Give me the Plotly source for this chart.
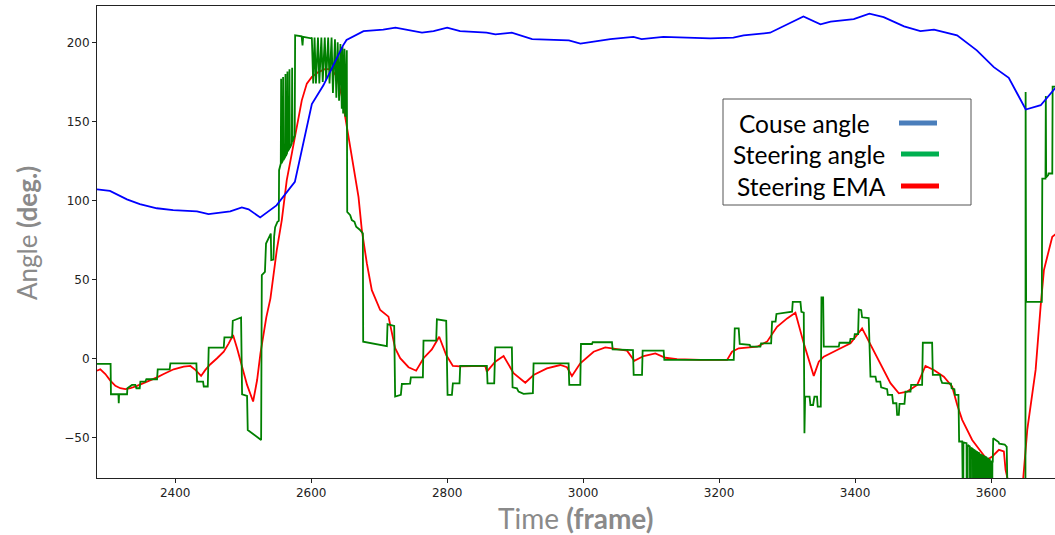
import plotly.graph_objects as go

# ---------------- data ----------------
course_x = [2285, 2304, 2329, 2348, 2373, 2397, 2432, 2449, 2481, 2498, 2508, 2525, 2549, 2576,
            2601, 2618, 2647, 2652, 2677, 2706, 2724, 2763, 2780, 2800, 2819, 2858, 2871, 2895,
            2925, 2979, 2996, 3040, 3074, 3086, 3118, 3187, 3221, 3236, 3275, 3324, 3349, 3364,
            3398, 3421, 3442, 3472, 3496, 3516, 3550, 3579, 3604, 3626, 3651, 3673, 3695]
course_y = [106.9, 106, 100.6, 97.6, 95, 93.8, 93, 91.3, 93, 95.5, 94.3, 89.2, 96.8, 111.7,
            161, 172.8, 198.1, 201.5, 207.1, 208, 209.3, 206.1, 207.1, 209.3, 207.1, 206.1, 205.1, 206.1,
            202.1, 201.3, 199.2, 202.1, 203.4, 202.1, 203.4, 202.5, 203, 204.4, 206.1, 216.4, 211.4, 213.1,
            214.7, 218.1, 216, 210.1, 207.1, 208, 204.4, 194.9, 184.3, 177.6, 157.5, 160.2, 171.4]

steer_x = [2285, 2305, 2305.5, 2316.5, 2317, 2317.5, 2329.2, 2329.7, 2336.5, 2341.4, 2342.9, 2347.8,
           2348.8, 2356.1, 2357.6, 2373.3, 2374.3, 2391.9, 2392.9, 2431.2, 2432.2, 2441, 2442, 2447.9,
           2449.3, 2471.4, 2472.4, 2483.7, 2484.7, 2496.9, 2498.4, 2505.7, 2506.7, 2525.4, 2526.4,
           2527.4, 2532, 2533.6, 2540.6, 2541.3, 2544.5, 2545.5, 2547, 2550.4, 2552.4, 2552.8,
           2555.3, 2555.8, 2556.3, 2558.2, 2558.7, 2559.2, 2561.7, 2562.2, 2562.7, 2564.6, 2565.1, 2565.6,
           2567.6, 2568.1, 2568.6, 2571.5, 2572, 2572.5, 2575.8, 2576.4, 2586, 2587.3, 2588.2, 2600,
           2601, 2603, 2605, 2607, 2610, 2612, 2615, 2617, 2620, 2622, 2625, 2627, 2630, 2632, 2635, 2637,
           2639, 2641, 2643, 2645, 2646, 2647, 2649, 2650, 2652.4,
           2653, 2657.4, 2659.8, 2663.7, 2666.2, 2671.1, 2676, 2676.5, 2711.3, 2712.3, 2722.1, 2723.5,
           2731.9, 2733.4, 2745.5, 2746.6, 2764.3, 2765.2, 2783.9, 2784.9, 2798.6, 2800.6, 2807, 2808.4,
           2818.2, 2819.2, 2858.4, 2859.4, 2869.2, 2870.7, 2895.2, 2896.2, 2902.6, 2905, 2912.4, 2926.1,
           2927.1, 2978.6, 2979.6, 2995.8, 2996.8, 3013, 3014, 3042.4, 3043.4, 3073.3, 3074.3, 3086.6,
           3087.5, 3118.4, 3119.4, 3221.5, 3223, 3228.8, 3230.3, 3245, 3246, 3260.7, 3261.7, 3276.5,
           3277.9, 3283, 3284.3, 3307.3, 3308.3, 3319.6, 3321, 3324.5, 3325.5, 3326.5, 3333, 3334.3,
           3338.2, 3340.2, 3344, 3345, 3349.5, 3350.5, 3353, 3353.9, 3376, 3377, 3392.2, 3393.2, 3398.5,
           3399.5, 3404.4, 3405.4, 3409, 3410.3, 3420, 3422.6, 3430, 3431.4, 3437, 3438.3, 3447.1, 3448.1,
           3454.5, 3455.9, 3460.8, 3461.8, 3464.3, 3465.3, 3472.6, 3474.1, 3481.5, 3482.4, 3498.6,
           3499.6, 3513.3, 3514.3, 3525, 3526, 3528, 3541, 3542, 3546, 3547, 3552, 3553,
           3557.5, 3557.8, 3559, 3559.3, 3563.9, 3564.2, 3565.4, 3565.7, 3568.8, 3569.1, 3570.3, 3570.6,
           3573.2, 3573.5, 3574.6, 3574.9, 3576.1, 3576.4, 3577.5, 3577.8, 3579.6, 3579.9, 3581, 3581.3,
           3582.5, 3582.8, 3583.9, 3584.2, 3585.4, 3585.7, 3586.8, 3587.1, 3588.4, 3588.7, 3589.8, 3590.1,
           3590.8, 3591.1, 3592.2, 3592.5, 3593.3, 3593.6, 3594.7, 3595, 3595.8, 3596.1, 3597.2, 3597.5,
           3598.2, 3598.5, 3599.6, 3599.9, 3600.2, 3600.5, 3601.6, 3601.9, 3602.5, 3603.1, 3611, 3612,
           3620, 3623, 3624, 3625, 3650.5, 3650.8, 3651.5, 3674.6, 3675.3, 3680, 3680.5, 3681, 3684,
           3684.5, 3690, 3690.5, 3695]
steer_y = [-3.5, -3.5, -22.7, -22.7, -28.4, -22.7, -22.7, -18.9, -16.8, -16.8, -18.9, -18.9,
           -14.7, -14.7, -13.2, -13.2, -6.9, -6.9, -3.1, -3.1, -14.7, -14.7, -17.8, -17.8,
           6.8, 6.8, 13.3, 13.3, 23.8, 25.9, -22.7, -23.8, -45.3, -51.6, -51.6,
           52.7, 54.8, 72.7, 79, 62.2, 62.5, 77, 83, 86.4, 87, 119.1,
           123.3, 177, 123.5, 125, 178, 125.5, 127.5, 180, 128, 130, 181.5, 131,
           132.5, 183, 133, 136, 184, 137, 141, 204.4, 203.8, 198, 203.5, 202.5,
           203, 174, 203, 174, 203, 174, 203, 175, 203, 176, 203, 174, 203, 168, 202, 165,
           200, 163, 199, 158, 197, 155, 196, 153, 195,
           92.7, 90.6, 87.5, 86.4, 83.3, 81.6, 79.1, 10.6, 7.8, 21.7, 20.5, -24.2,
           -23.1, -16.2, -16, -12, -12, 11.2, 11.2, 24.7, 23.8, -23.1, -23.1, -15.8,
           -15.8, -4.8, -4.8, -15.8, -15.8, 7, 7, -18.3, -18.9, -21, -22.5, -22,
           -3.1, -3.1, -16.8, -16.8, 9.1, 9.1, 10.2, 10.2, 5.7, 5.3, -10.5, -10.5,
           4.9, 4.9, -1, -1, 19, 19, 9.1, 8.5, 7.4, 7.4, 9.5, 9.5,
           23.2, 23.2, 28.1, 29.5, 35.8, 35.8, 29.5, 29, -47.4, -24.2, -24.2, -29.5,
           -29.5, -24.2, -24.2, -30.5, -30.5, 38.6, 38.6, 7.4, 7.4, 9.9, 9.9, 12.3, 12.3,
           15.4, 15.4, 31, 30.5, 26, 25.5, -11.6, -11.6, -14.7, -14.7, -18.3, -19.5, -23.1,
           -23.1, -28.4, -28.4, -35.8, -35.8, -28.8, -28.8, -21, -21, -16.8, -16.8,
           9.9, 9.9, -10.5, -10.5, -13.2, -15.5, -16, -19, -19.5, -23.1, -23.1, -52.6,
           -52.6, -110, -110, -53.2, -53.7, -110, -110, -54.8, -55.8, -110, -110, -56.5,
           -57.3, -110, -110, -57.8, -58.3, -110, -110, -58.8, -59.2, -110, -110, -59.6,
           -60, -110, -110, -60.5, -61.1, -110, -110, -61.4, -61.7, -110, -110, -61.9,
           -62.1, -110, -110, -62.3, -62.6, -110, -110, -63, -63.5, -110, -110, -63.8,
           -64.2, -110, -110, -64.8, -65.3, -110, -110, -65.3, -65.3, -50.5, -53, -54,
           -54.5, -56, -70, -110, -110, 168.6, 35.8, 35.8, 113.8, 113.8, 166, 114.5, 116,
           117, 117, 172, 172]

ema_x = [2285, 2289.9, 2297.3, 2304.6, 2312, 2319.3, 2326.7, 2334.1, 2343.9, 2353.7, 2363.5, 2373.3,
         2383.1, 2397.8, 2412.5, 2422.4, 2429.7, 2438.1, 2444.4, 2451.8, 2461.6, 2471.4, 2478.8,
         2485.1, 2491, 2498.4, 2505.7, 2514.6, 2520.5, 2525.4, 2530.3, 2534, 2540.1, 2549.4, 2556.8,
         2564.1, 2571.5, 2578.9, 2586.2, 2593.6, 2601, 2610, 2620, 2630, 2638, 2645, 2652.4, 2664.7,
         2669.6, 2674.5, 2681.9, 2689.2, 2701.5, 2713.7, 2723.5, 2730.9, 2743.2, 2754.4, 2765.2,
         2777.5, 2788.3, 2798.6, 2808.4, 2819.2, 2856, 2858.4, 2870.7, 2883, 2897.7, 2914.9, 2927.1,
         2946.7, 2966.4, 2976.2, 2983.5, 2995.8, 3015.4, 3032.6, 3049.8, 3064.5, 3075.3, 3089,
         3106.2, 3120.9, 3138.1, 3172.4, 3211.7, 3219, 3228.8, 3255.8, 3270.5, 3285.2, 3300, 3312.2,
         3324.5, 3334.3, 3339.2, 3346.6, 3353.9, 3373.5, 3393.2, 3410.3, 3422.6, 3437.3, 3452,
         3464.3, 3476.6, 3491.3, 3503.5, 3515.8, 3530.5, 3542.8, 3550.2, 3557.5, 3572.2, 3586.9,
         3594.3, 3601.7, 3611.5, 3618.8, 3621.3, 3626.2, 3632, 3642, 3647.3, 3653.2, 3660.6, 3665.5,
         3672.8, 3677.7, 3682.6, 3686.6, 3690, 3694.9]
ema_y = [-7.8, -6.9, -9.9, -14.1, -17.4, -18.9, -19.5, -18.9, -17.4, -15.7, -14.1, -12,
         -9.9, -6.9, -5.2, -4.8, -7.3, -11.1, -7.3, -3.7, 0.1, 4.2, 9.5,
         14.8, 6.4, -5.2, -16.8, -27.3, -13.7, 3.2, 16.9, 26, 38, 68.5, 87.5,
         112.8, 129.6, 146.5, 163.3, 173.9, 178.1, 181, 183, 183, 178, 166, 147, 117,
         102.2, 81.2, 60.1, 43.2, 30.6, 26.4, 6.4, 0.1, -5.6, -7.8, 0.1,
         5.7, 13.7, 2.1, -4.8, -5, -4.8, -8.4, -2.1, 1.5, -9.4, -15.4, -10.5,
         -6.3, -4.2, -5.6, -11.1, -3.1, 4.2, 7, 5.7, 4.9, -1.5, 1.5,
         3.2, 0.4, -0.5, -1, -1, 4.2, 6.4, 7.4, 10.6, 20, 25.3, 28.9,
         9.5, -5.2, -11.1, -2.1, 1.1, 5.3, 9.5, 19, 8.5, -4.2, -15.7,
         -22.1, -21, -16.8, -4.8, -7.3, -11.6, -17.9, -29.5, -38.9, -51.6, -60,
         -64.2, -62.1, -57.9, -58.9, -70.5, -80, -95, -95, -75.8, -45.3, -22.1, -7.3,
         32.7, 55.9, 64.3, 71.7, 77, 78.6]

x_ticks = [2400, 2600, 2800, 3000, 3200, 3400, 3600]
y_ticks = [-50, 0, 50, 100, 150, 200]
legend_labels = ["Couse angle", "Steering angle", "Steering EMA"]

# ---------------- layout helpers (pixel -> paper) ----------------
W, H = 1055, 535
ML, MR, MT, MB = 97, 0, 6, 57
PW, PH = W - ML - MR, H - MT - MB


def px(x):
    return (x - ML) / PW


def py(y):
    return (H - MB - y) / PH


fig = go.Figure()
fig.add_trace(go.Scatter(x=ema_x, y=ema_y, mode="lines",
                         line=dict(color="#ff0000", width=1.8), showlegend=False))
fig.add_trace(go.Scatter(x=steer_x, y=steer_y, mode="lines",
                         line=dict(color="#008000", width=1.8), showlegend=False))
fig.add_trace(go.Scatter(x=course_x, y=course_y, mode="lines",
                         line=dict(color="#0000ff", width=1.8), showlegend=False))

tickfont = dict(family="DejaVu Sans", size=12, color="#222")
fig.update_xaxes(range=[2285, 3694], tickvals=x_ticks, showgrid=False, zeroline=False,
                 showline=True, linecolor="#222", linewidth=1, mirror=True,
                 ticks="outside", ticklen=4, tickcolor="#222", tickfont=tickfont)
fig.update_yaxes(range=[-75.7, 223], tickvals=y_ticks, showgrid=False, zeroline=False,
                 showline=True, linecolor="#222", linewidth=1,
                 ticks="outside", ticklen=4, tickcolor="#222", tickfont=tickfont)

shapes = [dict(type="rect", xref="paper", yref="paper",
               x0=px(723), x1=px(971), y0=py(99), y1=py(205),
               line=dict(color="#555", width=1), fillcolor="white", layer="above")]
leg_colors = ["#4a7ebb", "#00b050", "#ff0000"]
leg_y = [123, 154, 186]
leg_x = [[899, 937], [901, 939], [901, 939]]
text_x = [737, 731, 735]
annotations = []
for lab, c, yy, lx, tx in zip(legend_labels, leg_colors, leg_y, leg_x, text_x):
    shapes.append(dict(type="line", xref="paper", yref="paper",
                       x0=px(lx[0]), x1=px(lx[1]), y0=py(yy), y1=py(yy),
                       line=dict(color=c, width=5), layer="above"))
    annotations.append(dict(text=lab, xref="paper", yref="paper", x=px(tx), y=py(yy),
                            xanchor="left", yanchor="middle", showarrow=False,
                            font=dict(family="Lato", size=24.5, color="black")))

annotations.append(dict(text="Time <b>(frame)</b>", xref="paper", yref="paper",
                        x=px(575), y=py(518), xanchor="center", yanchor="middle",
                        showarrow=False, font=dict(family="Lato", size=28, color="#8a8a8a")))
annotations.append(dict(text="Angle <b>(deg.)</b>", xref="paper", yref="paper",
                        x=px(27), y=py(233), xanchor="center", yanchor="middle", textangle=-90,
                        showarrow=False, font=dict(family="Lato", size=26, color="#8a8a8a")))

fig.update_layout(width=W, height=H, margin=dict(l=ML, r=MR, t=MT, b=MB),
                  plot_bgcolor="white", paper_bgcolor="white",
                  shapes=shapes, annotations=annotations, showlegend=False)

fig.write_html("out.html")
